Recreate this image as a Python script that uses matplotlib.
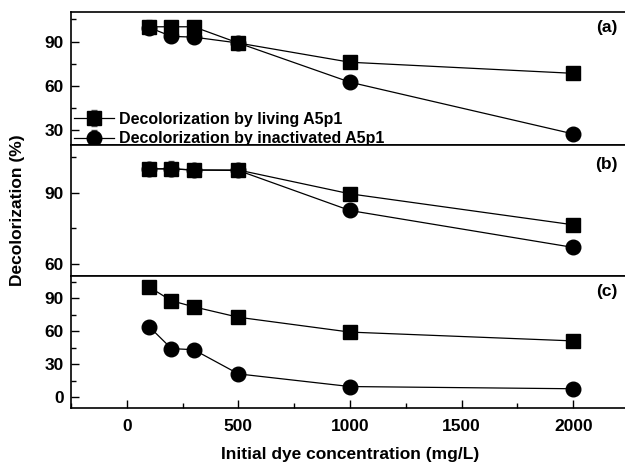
import matplotlib
matplotlib.use("Agg")
import matplotlib.pyplot as plt
from matplotlib.ticker import MultipleLocator

plt.rcParams['font.family'] = ['Liberation Sans', 'DejaVu Sans']
plt.rcParams['font.weight'] = 'bold'

conc = [100, 200, 300, 500, 1000, 2000]

# panel (a)
living_a = [100, 100, 100, 89, 76, 68.5]
living_a_err = [4.5, 2, 2, 1.5, 2, 2.5]
inact_a = [99.5, 93.5, 93, 89, 62.5, 27.5]
inact_a_err = [4.5, 3.5, 1.5, 1, 1, 1]

# panel (b)
living_b = [100, 100, 99.5, 99.5, 89.5, 76.5]
living_b_err = [1.5, 1, 1, 1, 0.5, 0.5]
inact_b = [100, 100, 99.5, 99.3, 82.5, 67]
inact_b_err = [2, 3.2, 1, 1, 0.5, 0.5]

# panel (c)
living_c = [100, 87.5, 82, 72.5, 59, 51]
living_c_err = [1, 1, 3, 5.5, 3, 1]
inact_c = [64, 44, 43, 21, 9.5, 7.5]
inact_c_err = [1, 1, 1, 1, 1, 1]

panels = ["(a)", "(b)", "(c)"]
ylims = [(20, 110), (55, 110), (-10, 110)]
yticks = [[30, 60, 90], [60, 90], [0, 30, 60, 90]]

fig = plt.figure(figsize=(6.25, 4.63), dpi=100)
left = 71 / 625
right = 629 / 625
rows = [(12, 145), (145, 276), (276, 408)]
axes = []
for top, bot in rows:
    ax = fig.add_axes([left, 1 - bot / 463, right - left, (bot - top) / 463])
    axes.append(ax)

data = [(living_a, living_a_err, inact_a, inact_a_err),
        (living_b, living_b_err, inact_b, inact_b_err),
        (living_c, living_c_err, inact_c, inact_c_err)]

for i, ax in enumerate(axes):
    liv, liv_err, ina, ina_err = data[i]
    ax.errorbar(conc, liv, yerr=liv_err, color='black', marker='s', markersize=10,
                lw=0.9, ecolor='#555555', elinewidth=0.9, capsize=2.5,
                label="Decolorization by living A5p1")
    ax.errorbar(conc, ina, yerr=ina_err, color='black', marker='o', markersize=10.5,
                lw=0.9, ecolor='#555555', elinewidth=0.9, capsize=2.5,
                label="Decolorization by inactivated A5p1")
    ax.set_xlim(-250, 2250)
    ax.set_ylim(*ylims[i])
    ax.set_yticks(yticks[i])
    ax.yaxis.set_minor_locator(MultipleLocator(15))
    ax.xaxis.set_major_locator(MultipleLocator(500))
    ax.xaxis.set_minor_locator(MultipleLocator(250))
    for sp in ax.spines.values():
        sp.set_linewidth(1.2)
    ax.spines['right'].set_visible(False)
    ax.tick_params(axis='y', which='major', direction='in', length=6, width=1,
                   labelsize=12.5, pad=5)
    ax.tick_params(axis='y', which='minor', direction='in', length=3.5, width=1)
    if i < 2:
        ax.tick_params(axis='x', which='major', direction='out', length=6, width=1,
                       labelbottom=False)
        ax.tick_params(axis='x', which='minor', direction='out', length=3.5, width=1)
    else:
        ax.tick_params(axis='x', which='major', direction='in', length=6, width=1,
                       labelsize=12.5, pad=8)
        ax.tick_params(axis='x', which='minor', direction='in', length=3.5, width=1)
    ax.text(0.98, 0.885 if i != 1 else 0.85, panels[i], transform=ax.transAxes,
            ha='right', va='center', fontsize=12.5, fontweight='bold')

axes[0].legend(loc='lower left', bbox_to_anchor=(0.0, -0.035), frameon=False,
               fontsize=11.5, handlelength=2.5, handletextpad=0.3,
               borderaxespad=0.0, labelspacing=0.3, borderpad=0.2)

axes[2].set_xlabel("Initial dye concentration (mg/L)", fontsize=12.5, fontweight='bold',
                   labelpad=9)
fig.text(18 / 625, 1 - 210 / 463, "Decolorization (%)", rotation=90, ha='center',
         va='center', fontsize=12.5, fontweight='bold')

fig.savefig("out.png", dpi=100)
